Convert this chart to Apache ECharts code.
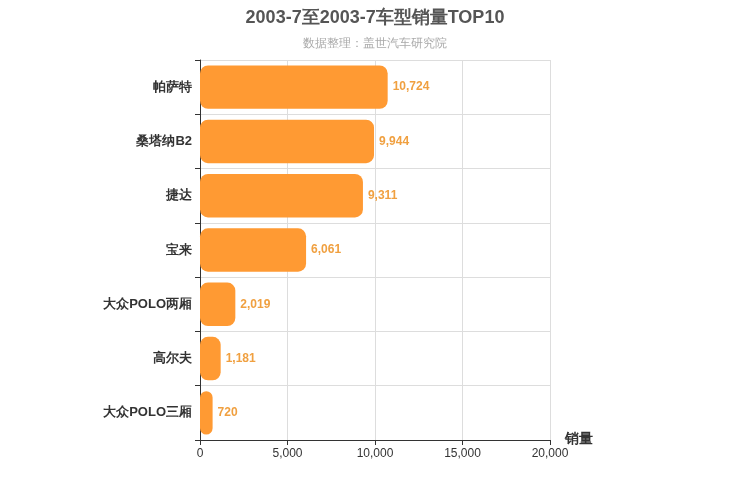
<!DOCTYPE html>
<html><head><meta charset="utf-8">
<script src="https://cdn.jsdelivr.net/npm/echarts@6/dist/echarts.min.js"></script>
<style>html,body{margin:0;padding:0;background:#fff}#c{width:750px;height:500px}</style>
</head><body><div id="c"></div>
<script>
const models = ['帕萨特', '桑塔纳B2', '捷达', '宝来', '大众POLO两厢', '高尔夫', '大众POLO三厢'];
const sales = [10724, 9944, 9311, 6061, 2019, 1181, 720];

const chart = echarts.init(document.getElementById('c'));
chart.setOption({
  animation: false,
  title: {
    text: '2003-7至2003-7车型销量TOP10',
    subtext: '数据整理：盖世汽车研究院',
    left: 'center',
    top: 4,
    itemGap: 11,
    textStyle: { fontSize: 18, fontWeight: 'bold', color: '#555', fontFamily: 'Arial, sans-serif' },
    subtextStyle: { fontSize: 12, color: '#aaa' }
  },
  grid: { left: 200, right: 200, top: 60, bottom: 60, containLabel: false },
  xAxis: {
    type: 'value', min: 0, max: 20000, interval: 5000,
    name: '销量', nameLocation: 'end', nameGap: 15,
    nameTextStyle: { fontSize: 14, fontWeight: 'bold', color: '#333', verticalAlign: 'top', padding: [-8, 0, 0, 0] },
    axisLine: { show: true, lineStyle: { color: '#333' } },
    axisTick: { show: true },
    axisLabel: { color: '#333', formatter: v => v.toLocaleString('en-US') },
    splitLine: { lineStyle: { color: '#ddd' } }
  },
  yAxis: {
    type: 'category', data: models, inverse: true,
    axisLine: { lineStyle: { color: '#333' } },
    axisTick: { show: true },
    axisLabel: { color: '#333', fontSize: 13, fontWeight: 'bold' },
    splitLine: { show: true, lineStyle: { color: '#ddd' } }
  },
  series: [{
    type: 'bar', data: sales, barWidth: '80%',
    itemStyle: { color: '#FF9A33', borderRadius: 8 },
    label: {
      show: true, position: 'right', color: '#F0A040', fontWeight: 'bold', fontSize: 12,
      formatter: p => p.value.toLocaleString('en-US')
    }
  }]
});
</script></body></html>
